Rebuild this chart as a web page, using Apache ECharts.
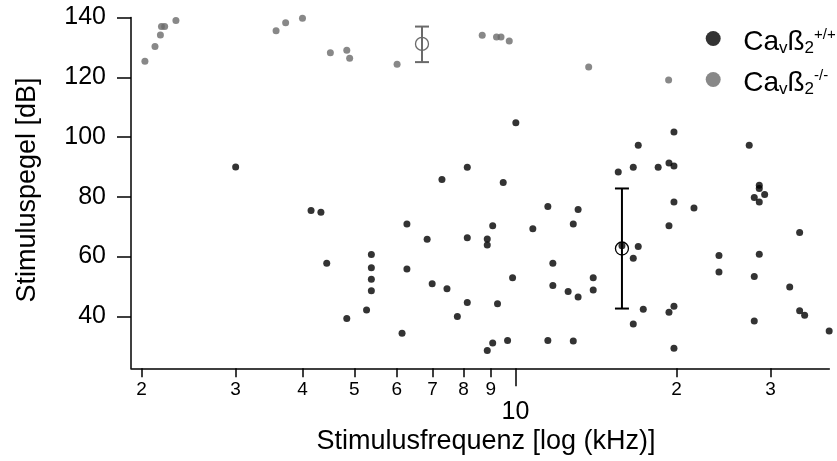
<!DOCTYPE html>
<html><head><meta charset="utf-8">
<script src="https://cdn.jsdelivr.net/npm/echarts@6/dist/echarts.min.js"></script>
<style>html,body{margin:0;padding:0;background:#fff}#c{width:837px;height:461px}</style>
</head><body><div id="c"></div>
<script>
// Ca_vß2 +/+ (wild type), stimulus frequency [kHz] and level [dB]
const wtFreq = [3.00, 4.15, 4.33, 4.44, 4.84, 5.27, 5.38, 5.38, 5.38, 5.38,
  6.14, 6.27, 6.27, 6.84, 6.99, 7.29, 7.45, 7.79, 8.13, 8.13,
  8.13, 8.86, 8.86, 8.86, 9.07, 9.07, 9.26, 9.49, 9.67, 9.88,
  10.02, 10.78, 11.50, 11.50, 11.75, 11.75, 12.55, 12.83, 12.83, 13.10,
  13.10, 13.98, 13.98, 15.57, 15.82, 16.61, 16.61, 16.61, 16.97, 16.97,
  17.34, 18.49, 19.37, 19.37, 19.37, 19.79, 19.79, 19.79, 19.79, 19.79,
  21.57, 24.02, 24.02, 27.36, 27.96, 27.96, 27.96, 28.57, 28.57, 28.57,
  28.57, 29.24, 32.57, 33.99, 33.99, 34.73, 38.60];
const wtLevel = [90.0, 75.4, 74.8, 57.8, 39.3, 42.1, 60.7, 56.3, 52.4, 48.6,
  34.3, 70.9, 55.8, 65.8, 50.9, 85.8, 49.2, 39.9, 89.9, 66.3,
  44.6, 65.9, 63.9, 28.6, 70.3, 31.1, 44.2, 84.8, 31.9, 52.9,
  104.8, 69.3, 76.8, 31.9, 57.8, 50.3, 48.3, 70.9, 31.7, 75.8,
  46.5, 52.9, 48.8, 88.3, 63.6, 89.9, 59.4, 37.4, 97.3, 63.4,
  42.4, 89.9, 91.3, 70.3, 41.4, 101.7, 90.3, 78.3, 43.4, 29.3,
  76.3, 60.4, 54.8, 97.3, 79.8, 53.3, 38.4, 83.9, 82.8, 78.3,
  60.8, 80.8, 49.8, 68.1, 41.9, 40.4, 35.1];
// Ca_vß2 -/- (knockout)
const koFreq = [2.03, 2.12, 2.17, 2.18, 2.21, 2.32, 3.57, 3.72, 4.00, 4.51,
  4.84, 4.90, 6.01, 8.67, 9.22, 9.40, 9.74, 13.71, 19.34];
const koLevel = [125.4, 130.3, 134.2, 137.0, 137.0, 139.0, 135.6, 138.3, 139.8, 128.2,
  129.1, 126.4, 124.4, 134.1, 133.5, 133.5, 132.2, 123.5, 119.1];
// mean with error bar: [frequency, mean, lower, upper]
const wtMean = [15.82, 62.7, 42.6, 82.8];
const koMean = [6.69, 131.2, 125.1, 137.0];
// ticks
const xMinorTicks = [2, 3, 4, 5, 6, 7, 8, 9, 20, 30];
const xMinorLabels = ['2', '3', '4', '5', '6', '7', '8', '9', '2', '3'];
const xMajorTicks = [10];
const xMajorLabels = ['10'];
const yTicks = [40, 60, 80, 100, 120, 140];

const FONT = '"Liberation Sans", Arial, sans-serif';
const GRAY = '#6a6a6a';
const WT_NAME = 'Cavß2 +/+';
const KO_NAME = 'Cavß2 -/-';

const X_MIN = 1.912, X_MAX = 38.62, Y_MIN = 22.6, Y_MAX = 140;

function labelFor(ticks, labels) {
  return function (v) {
    for (let i = 0; i < ticks.length; i++) if (Math.abs(ticks[i] - v) < 1e-6 * ticks[i]) return labels[i];
    return '';
  };
}

function errRender(color) {
  return function (params, api) {
    const f = api.value(0), m = api.value(1), lo = api.value(2), hi = api.value(3);
    const pm = api.coord([f, m]);
    const pl = api.coord([f, lo]);
    const ph = api.coord([f, hi]);
    const w = 7;
    const ls = { stroke: color, lineWidth: 2 };
    return {
      type: 'group',
      children: [
        { type: 'line', shape: { x1: pl[0], y1: pl[1], x2: ph[0], y2: ph[1] }, style: ls },
        { type: 'line', shape: { x1: ph[0] - w, y1: ph[1], x2: ph[0] + w, y2: ph[1] }, style: ls },
        { type: 'line', shape: { x1: pl[0] - w, y1: pl[1], x2: pl[0] + w, y2: pl[1] }, style: ls },
        { type: 'circle', shape: { cx: pm[0], cy: pm[1], r: 6.5 }, style: { stroke: color, fill: 'none', lineWidth: 1.3 } }
      ]
    };
  };
}

const chart = echarts.init(document.getElementById('c'), null, { renderer: 'canvas' });
const axisLineStyle = { color: '#000', width: 1.5 };
const option = {
  animation: false,
  backgroundColor: '#fff',
  textStyle: { fontFamily: FONT },
  grid: { left: 131, right: 7.7, top: 17.6, bottom: 92.7 },
  xAxis: [{
    type: 'log', logBase: 10, min: X_MIN, max: X_MAX, position: 'bottom',
    axisLine: { show: true, lineStyle: axisLineStyle },
    axisTick: { show: true, customValues: xMinorTicks, length: 9, lineStyle: axisLineStyle },
    axisLabel: { customValues: xMinorTicks, formatter: labelFor(xMinorTicks, xMinorLabels), fontSize: 19, color: '#000', margin: 12, fontFamily: FONT },
    splitLine: { show: false }, minorTick: { show: false }
  }, {
    type: 'log', logBase: 10, min: X_MIN, max: X_MAX, position: 'bottom',
    axisLine: { show: false },
    axisTick: { show: true, customValues: xMajorTicks, length: 18, lineStyle: axisLineStyle },
    axisLabel: { customValues: xMajorTicks, formatter: labelFor(xMajorTicks, xMajorLabels), fontSize: 25, color: '#000', margin: 31, fontFamily: FONT },
    splitLine: { show: false }
  }],
  yAxis: {
    type: 'value', min: Y_MIN, max: Y_MAX,
    axisLine: { show: true, lineStyle: axisLineStyle },
    axisTick: { show: true, customValues: yTicks, length: 14, lineStyle: axisLineStyle },
    axisLabel: { customValues: yTicks, fontSize: 25, color: '#000', margin: 25, fontFamily: FONT },
    splitLine: { show: false }
  },
  legend: {
    orient: 'vertical', left: 700.7, top: 22, itemWidth: 50, itemHeight: 15, itemGap: 11,
    icon: 'circle', symbolKeepAspect: true,
    data: [WT_NAME, KO_NAME],
    formatter: function (name) {
      return name === WT_NAME ? '{n|Ca}{s|v}{n|ß}{s|2}{p|+/+}' : '{n|Ca}{s|v}{n|ß}{s|2}{p|-/-}';
    },
    textStyle: {
      color: '#000', fontFamily: FONT, padding: [7, 0, 0, 0],
      rich: {
        n: { fontSize: 28, color: '#000', fontFamily: FONT, lineHeight: 30, verticalAlign: 'middle' },
        s: { fontSize: 17, color: '#000', fontFamily: FONT, lineHeight: 18, verticalAlign: 'bottom' },
        p: { fontSize: 15, color: '#000', fontFamily: FONT, lineHeight: 2, verticalAlign: 'top' }
      }
    }
  },
  graphic: [
    { type: 'text', x: 486, y: 442, style: { text: 'Stimulusfrequenz [log (kHz)]', fontSize: 27, fill: '#000', fontFamily: FONT, align: 'center', verticalAlign: 'middle' } },
    { type: 'text', x: 28, y: 190, rotation: Math.PI / 2, style: { text: 'Stimuluspegel [dB]', fontSize: 27, fill: '#000', fontFamily: FONT, align: 'center', verticalAlign: 'middle' } }
  ],
  series: [
    {
      name: WT_NAME, type: 'scatter', symbol: 'circle', symbolSize: 7,
      itemStyle: { color: '#000' },
      data: wtFreq.map((f, i) => [f, wtLevel[i]]), z: 3
    },
    {
      name: KO_NAME, type: 'scatter', symbol: 'circle', symbolSize: 7,
      itemStyle: { color: GRAY },
      data: koFreq.map((f, i) => [f, koLevel[i]]), z: 3
    },
    {
      type: 'custom', renderItem: errRender('#000'), data: [wtMean], z: 4,
      encode: { x: 0, y: [1, 2, 3] }
    },
    {
      type: 'custom', renderItem: errRender(GRAY), data: [koMean], z: 4,
      encode: { x: 0, y: [1, 2, 3] }
    }
  ]
};
chart.setOption(option);
</script></body></html>
